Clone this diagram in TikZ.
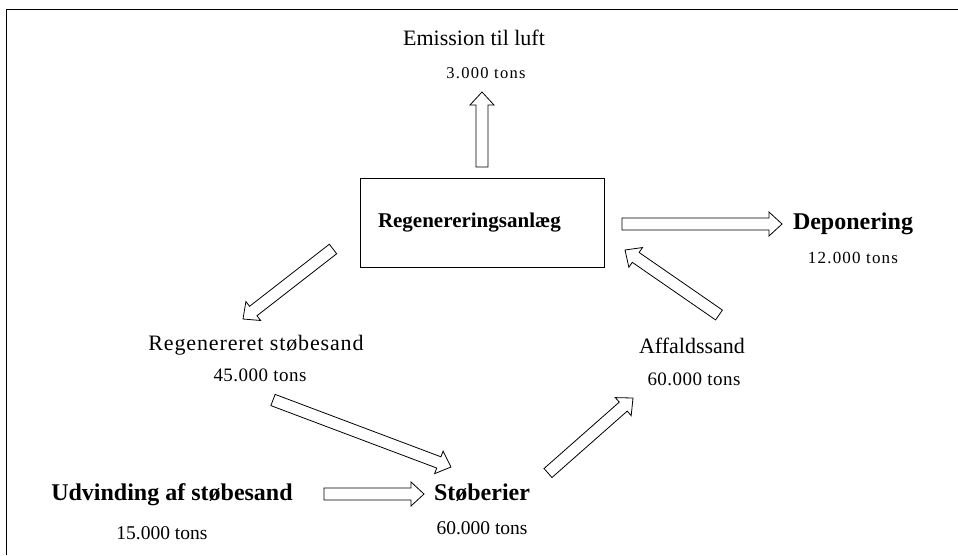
\documentclass[tikz,border=0pt]{standalone}
\usepackage{fontspec}
\setmainfont{Liberation Serif}
\usetikzlibrary{calc}

\begin{document}
\begin{tikzpicture}[x=1pt,y=-1pt]

    \tikzset{
      flow/.style={
        draw,
        line width=0.8pt,
        line join=miter,
        to path={
          ($(\tikztostart)!6pt!90:(\tikztotarget)$)
          -- ($(\tikztotarget)!13pt!(\tikztostart)!6pt!90:(\tikztotarget)$)
          -- ($(\tikztotarget)!13pt!(\tikztostart)!12pt!90:(\tikztotarget)$)
          -- (\tikztotarget)
          -- ($(\tikztotarget)!13pt!(\tikztostart)!12pt!-90:(\tikztotarget)$)
          -- ($(\tikztotarget)!13pt!(\tikztostart)!6pt!-90:(\tikztotarget)$)
          -- ($(\tikztostart)!6pt!-90:(\tikztotarget)$)
          -- cycle
        },
      },
      lbl/.style={
        anchor=base,
        inner sep=0pt,
        font=\fontsize{22}{24}\selectfont,
      },
      title/.style={
        anchor=base,
        inner sep=0pt,
        font=\fontsize{24}{26}\selectfont\bfseries,
      },
      amount/.style={
        anchor=base,
        inner sep=0pt,
        font=\fontsize{#1}{#1}\selectfont,
      },
    }
    \useasboundingbox (0,0) rectangle (958,555);

	% frame
	\draw[line width=1pt] (6.5,555)--(6.5,9.5)--(958,9.5);

	% plant
	\node[draw, line width=0.8pt, minimum width=244, minimum height=89,
	      text width=208, align=left, inner xsep=18, inner ysep=0pt,
	      font=\fontsize{21}{23}\selectfont\bfseries] (anlaeg) at (482,222.5) {Regenereringsanlæg};

	% labels
	\node[lbl] (emission) at (474,45) {Emission til luft};
	\node[amount=16.5] (emissiontons) at (486,78) {\addfontfeatures{LetterSpace=8}3.000 tons};
	\node[title] (deponering) at (853,229) {Deponering};
	\node[amount=17] (deponeringtons) at (853,263) {\addfontfeatures{LetterSpace=7}12.000 tons};
	\node[lbl] (regenereret) at (256,350) {\addfontfeatures{LetterSpace=4}Regenereret støbesand};
	\node[amount=19] (regenererettons) at (260,381) {\addfontfeatures{LetterSpace=2.5}45.000 tons};
	\node[lbl] (affald) at (692,353) {Affaldssand};
	\node[amount=19] (affaldtons) at (694,385) {\addfontfeatures{LetterSpace=2.5}60.000 tons};
	\node[title] (udvinding) at (172,500) {Udvinding af støbesand};
	\node[amount=19.5] (udvindingtons) at (162,539) {15.000 tons};
	\node[title] (stoeberier) at (482,500) {Støberier};
	\node[amount=19.5] (stoeberiertons) at (482,534) {60.000 tons};

	% arrow ends
	\coordinate (e1) at (482,167);   \coordinate (e2) at (482,92);
	\coordinate (d1) at (622,224);   \coordinate (d2) at (782,224);
	\coordinate (r1) at (333,249);   \coordinate (r2) at (243,319);
	\coordinate (s1) at (273,400);   \coordinate (s2) at (451,467);
	\coordinate (u1) at (324,494);   \coordinate (u2) at (424,494);
	\coordinate (a1) at (548,473);   \coordinate (a2) at (633,398);
	\coordinate (b1) at (719,315);   \coordinate (b2) at (625,250);

	% flows
	\draw[flow] (e1) to (e2);
	\draw[flow] (d1) to (d2);
	\draw[flow] (r1) to (r2);
	\draw[flow] (s1) to (s2);
	\draw[flow] (u1) to (u2);
	\draw[flow] (a1) to (a2);
	\draw[flow] (b1) to (b2);

\end{tikzpicture}
\end{document}
